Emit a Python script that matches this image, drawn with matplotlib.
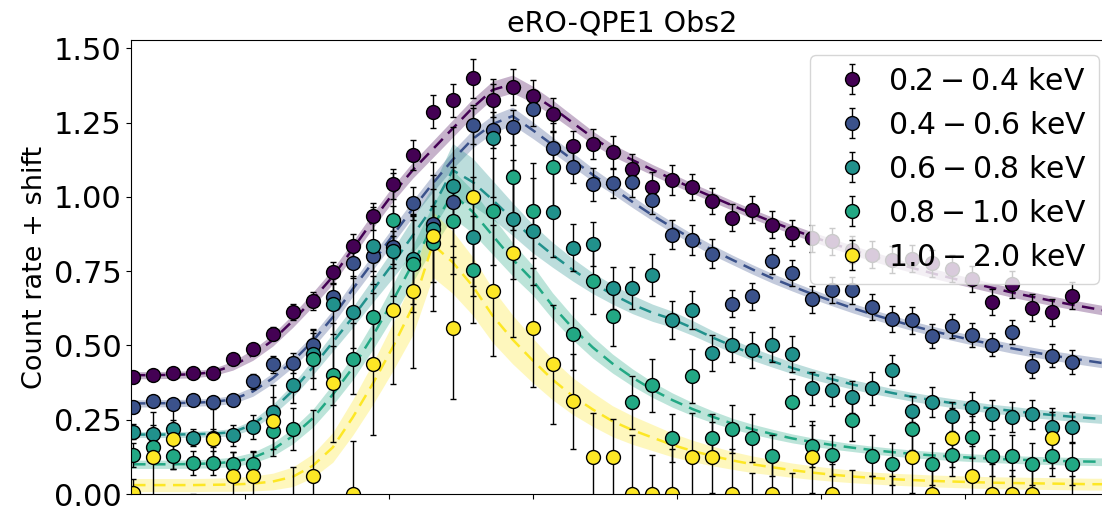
import numpy as np
import matplotlib
matplotlib.use("Agg")
import matplotlib.pyplot as plt

# ---------------- data ----------------
title = "eRO-QPE1 Obs2"
ylabel = "Count rate + shift"
band_labels = [r"$0.2-0.4$ keV", r"$0.4-0.6$ keV", r"$0.6-0.8$ keV",
               r"$0.8-1.0$ keV", r"$1.0-2.0$ keV"]
colors = ["#440154", "#3b528b", "#21918c", "#22a884", "#fde725"]

time_bin = np.arange(48)          # light-curve bin index
model_bin = np.arange(-1, 50)     # bins where the model curve is sampled
xtick_pos = [5.585, 12.8, 20.0, 27.22, 34.44, 41.66]

rate_02_04 = [0.393, 0.401, 0.407, 0.407, 0.407, 0.455, 0.488, 0.539, 0.612, 0.650,
              0.746, 0.834, 0.934, 1.043, 1.140, 1.287, 1.325, 1.399, 1.325, 1.370,
              1.339, 1.278, 1.171, 1.177, 1.150, 1.095, 1.033, 1.056, 1.033, 0.986,
              0.930, 0.957, 0.906, 0.878, 0.860, 0.850, 0.822, 0.806, 0.789, 0.792,
              0.777, 0.758, 0.724, 0.646, 0.706, 0.627, 0.612, 0.668]
rate_04_06 = [0.294, 0.314, 0.303, 0.315, 0.310, 0.318, 0.379, 0.436, 0.441, 0.503,
              0.663, 0.777, 0.800, 0.830, 0.978, 0.910, 0.983, 1.243, 1.224, 1.234,
              1.297, 1.163, 1.101, 1.042, 1.047, 1.050, 0.991, 0.873, 0.854, 0.809,
              0.640, 0.665, 0.784, 0.744, 0.655, 0.687, 0.685, 0.629, 0.589, 0.585,
              0.531, 0.565, 0.535, 0.503, 0.545, 0.430, 0.466, 0.444]
rate_06_08 = [0.210, 0.202, 0.219, 0.190, 0.188, 0.197, 0.225, 0.275, 0.367, 0.472,
              0.640, 0.613, 0.836, 0.818, 0.790, 0.893, 1.035, 0.866, 1.198, 0.925,
              0.885, 0.949, 0.829, 0.842, 0.694, 0.694, 0.737, 0.586, 0.619, 0.474,
              0.503, 0.485, 0.503, 0.472, 0.356, 0.350, 0.326, 0.356, 0.417, 0.280,
              0.309, 0.261, 0.292, 0.268, 0.259, 0.268, 0.226, 0.226]
rate_08_10 = [0.132, 0.157, 0.129, 0.104, 0.104, 0.101, 0.101, 0.213, 0.219, 0.455,
              0.399, 0.455, 0.595, 0.921, 0.774, 0.845, 0.920, 0.755, 0.951, 1.068,
              0.953, 1.099, 0.539, 0.717, 0.598, 0.308, 0.366, 0.189, 0.397, 0.189,
              0.219, 0.189, 0.129, 0.308, 0.162, 0.130, 0.248, 0.129, 0.101, 0.219,
              0.101, 0.132, 0.191, 0.129, 0.129, 0.101, 0.129, 0.101]
rate_10_20 = [0.002, 0.126, 0.185, -0.08, 0.185, 0.062, 0.062, 0.247, -0.06, 0.062,
              0.374, 0.000, 0.438, 0.620, 0.684, 0.867, 0.559, 0.999, 0.684, 0.810,
              0.559, 0.436, 0.312, 0.123, 0.123, 0.000, 0.000, 0.000, 0.123, 0.123,
              0.000, -0.06, 0.000, -0.06, 0.125, 0.000, -0.06, -0.06, -0.06, 0.124,
              0.000, 0.190, 0.062, 0.000, 0.000, 0.000, 0.189, -0.06]

err_02_04 = [0.012, 0.012, 0.012, 0.012, 0.012, 0.015, 0.018, 0.022, 0.028, 0.030,
             0.035, 0.040, 0.045, 0.050, 0.050, 0.055, 0.055, 0.065, 0.055, 0.060,
             0.055, 0.055, 0.050, 0.050, 0.055, 0.050, 0.050, 0.050, 0.045, 0.045,
             0.045, 0.045, 0.045, 0.045, 0.045, 0.045, 0.045, 0.045, 0.045, 0.045,
             0.045, 0.045, 0.045, 0.045, 0.045, 0.045, 0.045, 0.045]
err_04_06 = [0.015, 0.015, 0.015, 0.015, 0.015, 0.018, 0.025, 0.030, 0.035, 0.040,
             0.045, 0.050, 0.050, 0.055, 0.055, 0.060, 0.060, 0.065, 0.060, 0.060,
             0.060, 0.055, 0.055, 0.055, 0.050, 0.050, 0.050, 0.050, 0.050, 0.050,
             0.045, 0.045, 0.045, 0.045, 0.045, 0.045, 0.045, 0.045, 0.045, 0.045,
             0.040, 0.040, 0.040, 0.040, 0.040, 0.040, 0.040, 0.040]
err_06_08 = [0.025, 0.030, 0.030, 0.030, 0.030, 0.035, 0.040, 0.050, 0.060, 0.080,
             0.100, 0.120, 0.130, 0.150, 0.150, 0.180, 0.200, 0.200, 0.200, 0.200,
             0.180, 0.150, 0.080, 0.075, 0.070, 0.070, 0.070, 0.065, 0.065, 0.060,
             0.060, 0.060, 0.060, 0.060, 0.055, 0.055, 0.055, 0.055, 0.050, 0.050,
             0.050, 0.050, 0.050, 0.050, 0.050, 0.050, 0.050, 0.050]
err_08_10 = [0.040, 0.045, 0.045, 0.040, 0.040, 0.040, 0.045, 0.060, 0.070, 0.100,
             0.100, 0.120, 0.140, 0.160, 0.160, 0.180, 0.180, 0.180, 0.180, 0.180,
             0.160, 0.150, 0.120, 0.110, 0.100, 0.090, 0.090, 0.080, 0.090, 0.080,
             0.080, 0.080, 0.070, 0.080, 0.070, 0.070, 0.070, 0.070, 0.070, 0.070,
             0.070, 0.070, 0.070, 0.070, 0.070, 0.070, 0.070, 0.070]
err_10_20 = [0.050, 0.150, 0.100, 0.080, 0.100, 0.080, 0.080, 0.120, 0.150, 0.220,
             0.200, 0.180, 0.240, 0.250, 0.260, 0.250, 0.240, 0.300, 0.220, 0.280,
             0.200, 0.200, 0.160, 0.150, 0.130, 0.200, 0.130, 0.150, 0.150, 0.120,
             0.150, 0.130, 0.120, 0.130, 0.120, 0.100, 0.140, 0.120, 0.120, 0.120,
             0.100, 0.100, 0.100, 0.100, 0.080, 0.080, 0.100, 0.120]

model_02_04 = [0.400, 0.400, 0.400, 0.401, 0.403, 0.410, 0.432, 0.468, 0.518, 0.583, 0.655,
               0.732, 0.825, 0.920, 1.010, 1.090, 1.160, 1.230, 1.300, 1.360, 1.380,
               1.345, 1.300, 1.250, 1.200, 1.157, 1.124, 1.091, 1.060, 1.029, 1.000,
               0.971, 0.943, 0.916, 0.890, 0.866, 0.843, 0.821, 0.800, 0.780, 0.761,
               0.743, 0.726, 0.710, 0.694, 0.678, 0.664, 0.650, 0.637, 0.625, 0.613]
model_04_06 = [0.305, 0.305, 0.305, 0.306, 0.307, 0.310, 0.318, 0.345, 0.390, 0.447, 0.515,
               0.595, 0.690, 0.780, 0.870, 0.960, 1.045, 1.125, 1.195, 1.245, 1.272,
               1.225, 1.175, 1.125, 1.075, 1.030, 0.983, 0.938, 0.897, 0.858, 0.821,
               0.788, 0.756, 0.726, 0.699, 0.673, 0.649, 0.626, 0.605, 0.585, 0.566,
               0.549, 0.533, 0.518, 0.504, 0.490, 0.478, 0.466, 0.456, 0.446, 0.436]
model_06_08 = [0.200, 0.200, 0.200, 0.200, 0.201, 0.203, 0.208, 0.234, 0.284, 0.348, 0.427,
               0.511, 0.595, 0.685, 0.775, 0.870, 0.965, 1.090, 1.050, 0.990, 0.925,
               0.860, 0.805, 0.755, 0.710, 0.672, 0.638, 0.610, 0.588, 0.559, 0.527,
               0.498, 0.471, 0.447, 0.424, 0.404, 0.386, 0.369, 0.354, 0.340, 0.327,
               0.316, 0.306, 0.296, 0.287, 0.280, 0.272, 0.266, 0.260, 0.255, 0.250]
model_08_10 = [0.100, 0.100, 0.100, 0.100, 0.101, 0.103, 0.108, 0.122, 0.150, 0.195, 0.255,
               0.335, 0.425, 0.532, 0.650, 0.775, 0.900, 1.010, 0.950, 0.870, 0.790,
               0.720, 0.633, 0.559, 0.494, 0.439, 0.392, 0.351, 0.316, 0.286, 0.260,
               0.237, 0.218, 0.202, 0.187, 0.175, 0.165, 0.156, 0.148, 0.141, 0.135,
               0.130, 0.126, 0.122, 0.119, 0.116, 0.114, 0.112, 0.110, 0.109, 0.108]
model_10_20 = [0.030, 0.030, 0.030, 0.030, 0.030, 0.031, 0.032, 0.035, 0.042, 0.058, 0.095,
               0.157, 0.258, 0.371, 0.494, 0.630, 0.840, 0.780, 0.700, 0.600, 0.520,
               0.450, 0.385, 0.330, 0.285, 0.245, 0.215, 0.190, 0.165, 0.145, 0.128,
               0.113, 0.100, 0.090, 0.080, 0.072, 0.065, 0.059, 0.054, 0.050, 0.047,
               0.044, 0.042, 0.040, 0.038, 0.037, 0.036, 0.035, 0.034, 0.033, 0.033]

band_02_04 = [0.012, 0.012, 0.012, 0.012, 0.012, 0.012, 0.015, 0.018, 0.020, 0.022, 0.024,
              0.025, 0.025, 0.025, 0.026, 0.027, 0.028, 0.029, 0.030, 0.030, 0.030,
              0.028, 0.026, 0.024, 0.022, 0.020, 0.019, 0.018, 0.018, 0.017, 0.017,
              0.016, 0.016, 0.016, 0.016, 0.016, 0.016, 0.016, 0.016, 0.016, 0.016,
              0.016, 0.016, 0.016, 0.016, 0.016, 0.016, 0.016, 0.016, 0.016, 0.016]
band_04_06 = [0.012, 0.012, 0.012, 0.012, 0.012, 0.012, 0.014, 0.016, 0.018, 0.020, 0.022,
              0.024, 0.025, 0.026, 0.027, 0.028, 0.029, 0.030, 0.030, 0.030, 0.030,
              0.028, 0.026, 0.024, 0.022, 0.020, 0.019, 0.018, 0.018, 0.017, 0.017,
              0.016, 0.016, 0.016, 0.016, 0.016, 0.016, 0.016, 0.016, 0.016, 0.016,
              0.016, 0.016, 0.016, 0.016, 0.016, 0.016, 0.016, 0.016, 0.016, 0.016]
band_06_08 = [0.010, 0.010, 0.010, 0.010, 0.010, 0.011, 0.012, 0.015, 0.018, 0.022, 0.026,
              0.030, 0.034, 0.040, 0.048, 0.058, 0.070, 0.090, 0.080, 0.065, 0.055,
              0.048, 0.042, 0.038, 0.035, 0.033, 0.031, 0.029, 0.027, 0.025, 0.023,
              0.022, 0.021, 0.020, 0.019, 0.018, 0.017, 0.016, 0.016, 0.015, 0.015,
              0.015, 0.015, 0.015, 0.015, 0.015, 0.015, 0.015, 0.015, 0.015, 0.015]
band_08_10 = [0.014, 0.014, 0.014, 0.014, 0.014, 0.015, 0.016, 0.018, 0.022, 0.026, 0.030,
              0.035, 0.040, 0.046, 0.054, 0.062, 0.072, 0.080, 0.072, 0.064, 0.056,
              0.050, 0.044, 0.040, 0.036, 0.032, 0.029, 0.026, 0.024, 0.022, 0.020,
              0.018, 0.017, 0.016, 0.015, 0.014, 0.014, 0.013, 0.013, 0.013, 0.013,
              0.013, 0.013, 0.013, 0.013, 0.013, 0.013, 0.013, 0.013, 0.013, 0.013]
band_10_20 = [0.022, 0.022, 0.022, 0.022, 0.022, 0.022, 0.023, 0.025, 0.028, 0.033, 0.040,
              0.050, 0.060, 0.070, 0.080, 0.095, 0.110, 0.105, 0.098, 0.090, 0.082,
              0.075, 0.068, 0.062, 0.057, 0.052, 0.048, 0.044, 0.040, 0.036, 0.033,
              0.030, 0.028, 0.026, 0.024, 0.023, 0.022, 0.021, 0.020, 0.020, 0.020,
              0.020, 0.020, 0.020, 0.020, 0.020, 0.020, 0.020, 0.020, 0.020, 0.020]

rates = [rate_02_04, rate_04_06, rate_06_08, rate_08_10, rate_10_20]
errs = [err_02_04, err_04_06, err_06_08, err_08_10, err_10_20]
models = [model_02_04, model_04_06, model_06_08, model_08_10, model_10_20]
bands = [band_02_04, band_04_06, band_06_08, band_08_10, band_10_20]

# ---------------- figure ----------------
W, H = 1102, 508
fig = plt.figure(figsize=(W / 100, H / 100), dpi=100)
ax = fig.add_axes([131 / W, 14 / H, (1114 - 131) / W, 454 / H])

for mod, bnd, col in zip(models, bands, colors):
    mod = np.asarray(mod)
    bnd = np.asarray(bnd)
    ax.fill_between(model_bin, mod - bnd, mod + bnd, color=col, alpha=0.3,
                    linewidth=0, zorder=1)
    ax.plot(model_bin, mod, ls=(0, (5, 3)), color=col, lw=1.8, zorder=1.5)

for r, e, col, lab in zip(rates, errs, colors, band_labels):
    ax.errorbar(time_bin, r, yerr=e, fmt="o", ms=10, mfc=col, mec="black",
                mew=1.0, ecolor="black", elinewidth=1.0, capsize=2,
                capthick=1.0, label=lab, zorder=2)

ax.set_xlim(-0.1, 49.1)
ax.set_ylim(0, 1.528)
ax.set_yticks([0.0, 0.25, 0.5, 0.75, 1.0, 1.25, 1.5])
ax.set_xticks(xtick_pos)
ax.set_xticklabels([])
ax.tick_params(axis="y", labelsize=22)
ax.set_ylabel(ylabel, fontsize=19.5)
ax.set_title(title, fontsize=20.5)

ax.legend(loc="upper right", fontsize=21.5, framealpha=0.8, handletextpad=0.2)

fig.savefig("out.png", dpi=100)
